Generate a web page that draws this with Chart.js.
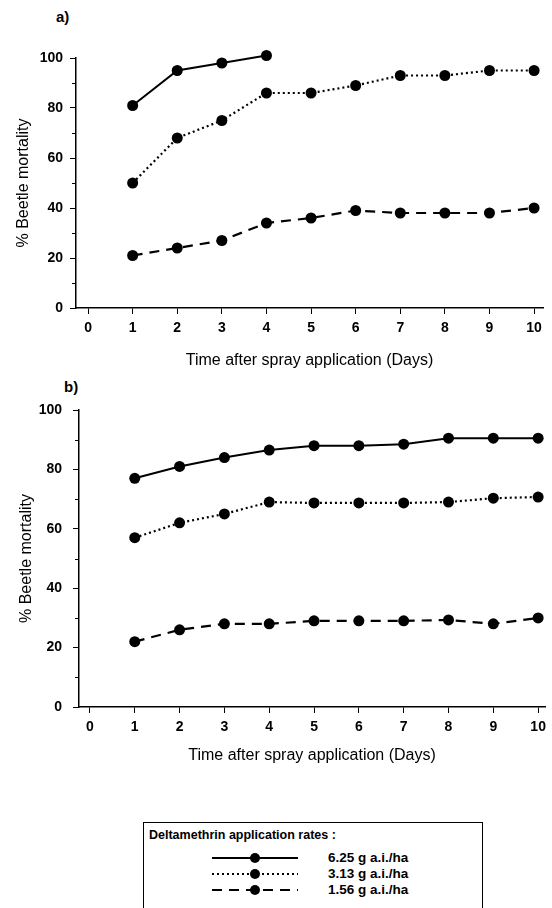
<!DOCTYPE html>
<html>
<head>
<meta charset="utf-8">
<script src="https://cdn.jsdelivr.net/npm/chart.js@4.4.1/dist/chart.umd.min.js"></script>
<style>
  body { margin: 0; background: #fff; width: 552px; height: 908px; position: relative; overflow: hidden; font-family: "Liberation Sans", Arial, sans-serif; color: #000; }
  .panel { position: absolute; left: 0; width: 552px; }
  #wrapA { top: 0; height: 372px; }
  #wrapB { top: 372px; height: 395px; }
  .tag { position: absolute; font: bold 15px "Liberation Sans", Arial, sans-serif; }
  #legend { position: absolute; left: 143px; top: 822px; width: 340px; height: 100px; border: 1px solid #000; box-sizing: border-box; }
  #legend .ttl { position: absolute; left: 5px; top: 5px; font: bold 12.5px "Liberation Sans", Arial, sans-serif; white-space: nowrap; }
  #legend .row { position: absolute; left: 0; height: 14px; width: 330px; }
  #legend .row svg { position: absolute; left: 68px; top: 0; }
  #legend .row span { position: absolute; left: 184px; top: 0; font: bold 13.5px "Liberation Sans", Arial, sans-serif; white-space: nowrap; line-height: 14px; }
</style>
</head>
<body>
<div class="tag" style="left:56px; top:8px;">a)</div>
<div class="tag" style="left:64px; top:378px;">b)</div>
<div class="panel" id="wrapA"><canvas id="chartA"></canvas></div>
<div class="panel" id="wrapB"><canvas id="chartB"></canvas></div>
<div id="legend">
  <div class="ttl">Deltamethrin application rates :</div>
</div>

<script>
// days after spraying (x) and axis tick values
const days = [1, 2, 3, 4, 5, 6, 7, 8, 9, 10];
const xTicks = [0, 1, 2, 3, 4, 5, 6, 7, 8, 9, 10];
const yTicks = [0, 20, 40, 60, 80, 100];
const yMinorTicks = [10, 30, 50, 70, 90];

const rateLabels = ['6.25 g a.i./ha', '3.13 g a.i./ha', '1.56 g a.i./ha'];

// panel a) % beetle mortality
const a625 = [81, 95, 98, 101];
const a313 = [50, 68, 75, 86, 86, 89, 93, 93, 95, 95];
const a156 = [21, 24, 27, 34, 36, 39, 38, 38, 38, 40];

// panel b) % beetle mortality
const b625 = [77, 81, 84, 86.5, 88, 88, 88.5, 90.5, 90.5, 90.5];
const b313 = [57, 62, 65, 69, 68.7, 68.7, 68.7, 69, 70.3, 70.7];
const b156 = [22, 26, 28, 28, 29, 29, 29, 29.3, 28, 30];

// line style per rate: solid, dotted, dashed
const dashes = [[], [2, 3], [10, 7]];

const FONT = '"Liberation Sans", Arial, sans-serif';

// short unlabelled ticks at 10, 30, ...
const minorTicks = {
  id: 'minorTicks',
  afterDraw(chart) {
    const y = chart.scales.y;
    const left = chart.chartArea.left;
    const ctx = chart.ctx;
    ctx.save();
    ctx.strokeStyle = '#000';
    ctx.lineWidth = 1;
    yMinorTicks.forEach(v => {
      const py = Math.round(y.getPixelForValue(v)) + 0.5;
      ctx.beginPath();
      ctx.moveTo(left - 4, py);
      ctx.lineTo(left, py);
      ctx.stroke();
    });
    ctx.restore();
  }
};

function toPoints(values) {
  return values.map((v, i) => ({ x: days[i], y: v }));
}

function makeChart(id, series, geo) {
  const ctx = document.getElementById(id).getContext('2d');
  new Chart(ctx, {
    type: 'scatter',
    data: {
      datasets: series.map((vals, i) => ({
        label: rateLabels[i],
        data: toPoints(vals),
        showLine: true,
        borderColor: '#000',
        backgroundColor: '#000',
        borderWidth: i === 0 ? 2 : 2.2,
        borderDash: dashes[i],
        pointRadius: 5.5,
        pointBorderWidth: 0,
        pointBackgroundColor: '#000',
        clip: false
      }))
    },
    options: {
      responsive: true,
      maintainAspectRatio: false,
      animation: false,
      layout: { padding: geo.padding },
      plugins: { legend: { display: false }, tooltip: { enabled: false } },
      scales: {
        x: {
          type: 'linear',
          min: geo.xMin,
          max: geo.xMax,
          afterBuildTicks: s => { s.ticks = xTicks.map(v => ({ value: v })); },
          afterFit: s => { s.height = geo.xHeight; },
          grid: { drawOnChartArea: false, drawTicks: true, tickLength: 6, color: '#000' },
          border: { display: true, color: '#000', width: 1.5 },
          ticks: { color: '#000', padding: 6, maxRotation: 0, font: { family: FONT, size: 14, weight: 'bold' } },
          title: {
            display: true,
            text: 'Time after spray application (Days)',
            color: '#000',
            font: { family: FONT, size: 16 },
            padding: { top: 4, bottom: 0 }
          }
        },
        y: {
          min: 0,
          max: 100,
          afterBuildTicks: s => { s.ticks = yTicks.map(v => ({ value: v })); },
          afterFit: s => { s.width = geo.yWidth; },
          grid: { drawOnChartArea: false, drawTicks: true, tickLength: 6, color: '#000' },
          border: { display: true, color: '#000', width: 1.5 },
          ticks: { color: '#000', padding: geo.yTickPad, font: { family: FONT, size: 14, weight: 'bold' } },
          title: {
            display: true,
            text: '% Beetle mortality',
            color: '#000',
            font: { family: FONT, size: 16 },
            padding: { top: geo.yTitlePad, bottom: 0 }
          }
        }
      }
    },
    plugins: [minorTicks]
  });
}

makeChart('chartA', [a625, a313, a156], {
  padding: { top: 58, left: 0, right: 9, bottom: 2 },
  xMin: -0.27, xMax: 10.2, xHeight: 62, yWidth: 76, yTickPad: 7, yTitlePad: 14
});

makeChart('chartB', [b625, b313, b156], {
  padding: { top: 38, left: 0, right: 4, bottom: 2 },
  xMin: -0.244, xMax: 10.155, xHeight: 58, yWidth: 79, yTickPad: 11, yTitlePad: 17
});

// legend rows: sample line with a marker, then the rate
const legend = document.getElementById('legend');
rateLabels.forEach((txt, i) => {
  const row = document.createElement('div');
  row.className = 'row';
  row.style.top = (28 + i * 16) + 'px';
  const dash = dashes[i].length ? ` stroke-dasharray="${dashes[i].join(' ')}"` : '';
  row.innerHTML =
    `<svg width="90" height="14"><line x1="0" y1="7" x2="86" y2="7" stroke="#000" stroke-width="2"${dash}/>` +
    `<circle cx="43" cy="7" r="5" fill="#000"/></svg><span>${txt}</span>`;
  legend.appendChild(row);
});
</script>
</body>
</html>
